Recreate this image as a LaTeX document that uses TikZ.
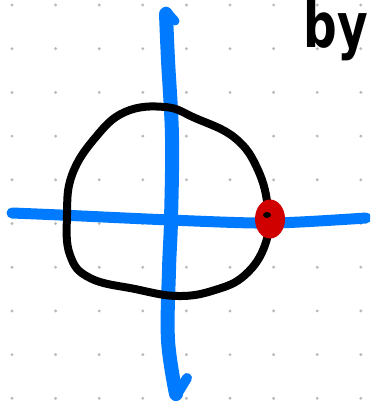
\documentclass[tikz,border=0pt]{standalone}
\usepackage{fontspec}
\newfontfamily\handfont{DejaVu Sans}
\definecolor{penblue}{RGB}{0,122,255}
\definecolor{penred}{RGB}{208,0,0}
\definecolor{dotgray}{RGB}{185,185,185}
\usetikzlibrary{shapes.geometric,positioning}

\begin{document}
\begin{tikzpicture}[
  x=1pt, y=-1pt,
  bluepen/.style={draw=penblue, line width=12pt, line cap=round, line join=round},
  blackpen/.style={draw=black, line width=8pt, line join=round},
  reddot/.style={ellipse, fill=penred, minimum width=30pt, minimum height=39pt, inner sep=0pt},
  handtext/.style={font=\handfont\bfseries\fontsize{62}{62}\selectfont, inner sep=0pt, xscale=0.76}
]
\useasboundingbox (0,0) rectangle (370,404);
\clip (0,0) rectangle (370,404);
\fill[white] (0,0) rectangle (370,404);

% dot grid
\foreach \i in {0,...,8}
  \foreach \j in {0,...,9}
    \fill[dotgray] ({12+43.6*\i},{5+43.7*\j}) circle (1.6pt);

% axes
\draw[bluepen, line width=11pt] plot[smooth, tension=0.6] coordinates {(12,213) (60,215) (170,220) (255,223) (300,222) (366,218)};
\draw[bluepen, line width=14pt] plot[smooth, tension=0.6] coordinates {(166,14) (168,60) (172,137) (171,220) (169,270) (168,340) (176,394)};
\draw[bluepen, line width=9pt] (166,11) -- (175,21);
\draw[bluepen, line width=10pt] (176,396) -- (187,378);

% circle
\draw[blackpen] plot[smooth cycle, tension=0.7] coordinates {(165,107) (195,118) (235,138) (258,170) (268,210) (265,245) (245,275) (215,290) (178,296) (135,289) (90,278) (70,255) (67,215) (72,175) (95,138) (125,112)};

% point on the circle
\node[reddot] (point) at (270,219) {};
\fill[black] (267,215) ellipse (4pt and 3pt);

\node[handtext, anchor=base east] (label) at (368,48) {by};
\end{tikzpicture}
\end{document}
